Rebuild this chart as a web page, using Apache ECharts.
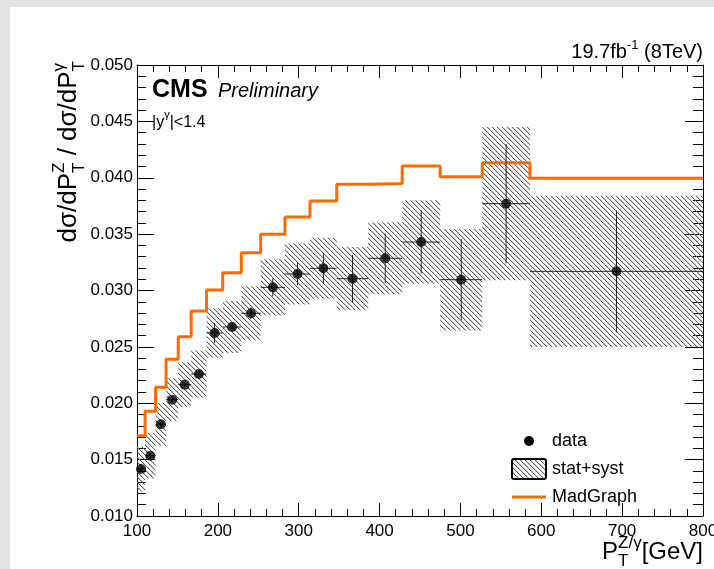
<!DOCTYPE html>
<html><head><meta charset="utf-8">
<script src="https://cdn.jsdelivr.net/npm/echarts@6/dist/echarts.min.js"></script>
<style>
html,body{margin:0;padding:0;background:#e3e3e0;width:714px;height:569px;overflow:hidden}
#panel{position:absolute;left:10px;top:7px;width:704px;height:562px;background:#fff}
#chart{position:absolute;left:0;top:0;width:714px;height:569px}
</style></head><body><div id="panel"></div><div id="chart"></div>
<script>
// ---- data ----
const binEdges = [100,110,123,136,151,167,186,206,229,253,283,314,347,386,428,475,527,586,800];
const pointX   = [105,116.5,129.5,143.5,159,176.5,196,217.5,241,268,298.5,330.5,366.5,407,451.5,501,556.5,693];
const pointY   = [0.01417,0.01535,0.01813,0.02032,0.02165,0.02259,0.02623,0.02676,0.02798,0.03028,0.03146,0.03197,0.03105,0.03286,0.0343,0.03096,0.0377,0.0317];
const statErr  = [0.0002,0.0002,0.0002,0.0002,0.0002,0.0003,0.0009,0.0003,0.0005,0.0008,0.0010,0.0014,0.0021,0.0022,0.0028,0.0036,0.0053,0.0054];
const totalErr = [0.0020,0.0020,0.0019,0.0019,0.0020,0.0021,0.0022,0.0023,0.0024,0.0025,0.0027,0.0027,0.0028,0.0032,0.0037,0.0045,0.0068,0.0067];
const madGraph = [0.01712,0.0193,0.02141,0.0239,0.0259,0.02818,0.03004,0.03158,0.03335,0.03498,0.03652,0.03794,0.03942,0.0395,0.04104,0.04009,0.04133,0.03995];
const xTicks = {min:100, max:800, interval:100};
const yTicks = {min:0.010, max:0.050, interval:0.005};

const FF = '"Liberation Sans", Arial, Helvetica, sans-serif';

// hatch pattern
function makeHatch(period){
  const c = document.createElement('canvas');
  c.width = period; c.height = period;
  const ctx = c.getContext('2d');
  const img = ctx.createImageData(period, period);
  for (let j=0;j<period;j++) for (let i=0;i<period;i++){
    const k = ((i - j) % period + period) % period;
    const idx = (j*period+i)*4;
    let a = 0;
    if (k===0) a = 255; else if (k===1) a = 70;
    img.data[idx]=95; img.data[idx+1]=95; img.data[idx+2]=95; img.data[idx+3]=a;
  }
  ctx.putImageData(img,0,0);
  return c;
}
const hatchCanvas = makeHatch(5);
const hatch = {image: hatchCanvas, repeat: 'repeat'};

// text measuring helper for composed (sub/sup) text
const mctx = document.createElement('canvas').getContext('2d');
function tw(t, font){ mctx.font = font; return mctx.measureText(t).width; }
function mathText(parts, x, y, align, rotation){
  let cur = 0; const items = [];
  parts.forEach(p=>{
    if (p.t !== undefined){
      const font = (p.style||'') + ' ' + p.s + 'px ' + FF;
      items.push({text:p.t, font, x:cur, y:(p.dy||0) - 0.33*p.s});
      cur += tw(p.t, font);
    } else {
      const font = p.s + 'px ' + FF;
      let w = 0;
      if (p.sub){ items.push({text:p.sub, font, x:cur, y:p.dySub - 0.33*p.s}); w = Math.max(w, tw(p.sub,font)); }
      if (p.sup){ items.push({text:p.sup, font, x:cur, y:p.dySup - 0.33*p.s}); w = Math.max(w, tw(p.sup,font)); }
      cur += w;
    }
  });
  const off = align === 'right' ? -cur : 0;
  return {
    type:'group', x, y, rotation: rotation||0, silent:true,
    children: items.map(it=>({
      type:'text', x: it.x + off, y: it.y,
      style:{text:it.text, font:it.font, fill:'#000', align:'left', verticalAlign:'middle'}
    }))
  };
}

const boxData = pointY.map((v,i)=>[binEdges[i], binEdges[i+1], v-totalErr[i], v+totalErr[i]]);
const errData = pointY.map((v,i)=>[pointX[i], v, binEdges[i], binEdges[i+1], statErr[i]]);
const mgData = binEdges.map((e,i)=>[e, madGraph[Math.min(i, madGraph.length-1)]]);
const ptData = pointY.map((v,i)=>[pointX[i], v]);

function axisCommon(isX, pos, showLabel, tickLen, minorLen){
  const t = isX ? xTicks : yTicks;
  return {
    type:'value', position:pos, min:t.min, max:t.max, interval:t.interval,
    axisLine:{show:true, onZero:false, lineStyle:{color:'#000', width:1}},
    axisTick:{show:true, inside:true, length:tickLen, lineStyle:{color:'#000', width:1}},
    minorTick:{show:true, splitNumber:5, length:minorLen, lineStyle:{color:'#000', width:1}},
    splitLine:{show:false}, minorSplitLine:{show:false},
    axisLabel:{show:showLabel, fontSize:17, color:'#000', fontFamily:FF,
      margin: isX ? 7 : 4, showMinLabel:true, showMaxLabel:true, hideOverlap:false,
      formatter: isX ? (v=>String(Math.round(v))) : (v=>v.toFixed(3))}
  };
}

const chart = echarts.init(document.getElementById('chart'), null, {renderer:'canvas'});
chart.setOption({
  animation:false,
  backgroundColor:'transparent',
  textStyle:{fontFamily:FF},
  grid:{left:137, right:11, top:65, bottom:53, containLabel:false, outerBoundsMode:'none'},
  xAxis:[axisCommon(true,'bottom',true,13,7), axisCommon(true,'top',false,13,7)],
  yAxis:[axisCommon(false,'left',true,17,9), axisCommon(false,'right',false,18,10)],
  series:[
    {type:'custom', name:'stat+syst', xAxisIndex:0, yAxisIndex:0, z:1, data:boxData,
      encode:{x:[0,1], y:[2,3]},
      renderItem:(params, api)=>{
        const p0 = api.coord([api.value(0), api.value(3)]);
        const p1 = api.coord([api.value(1), api.value(2)]);
        return {type:'rect', shape:{x:p0[0], y:p0[1], width:p1[0]-p0[0], height:p1[1]-p0[1]}, style:{fill:hatch}};
      }},
    {type:'line', name:'MadGraph', step:'end', z:3, data:mgData, symbol:'none',
      lineStyle:{color:'#ff6a00', width:3}, itemStyle:{color:'#ff6a00'}},
    {type:'custom', name:'errors', z:4, data:errData,
      encode:{x:[0,2,3], y:1},
      renderItem:(params, api)=>{
        const xc = api.value(0), y = api.value(1), x0 = api.value(2), x1 = api.value(3), e = api.value(4);
        const l = api.coord([x0,y]), r = api.coord([x1,y]);
        const t = api.coord([xc,y+e]), b = api.coord([xc,y-e]);
        const st = {stroke:'#222', lineWidth:1};
        return {type:'group', children:[
          {type:'line', shape:{x1:l[0], y1:l[1], x2:r[0], y2:r[1]}, style:st},
          {type:'line', shape:{x1:t[0], y1:t[1], x2:b[0], y2:b[1]}, style:st}
        ]};
      }},
    {type:'scatter', name:'data', z:5, data:ptData, symbol:'circle', symbolSize:10,
      itemStyle:{color:'#000'}}
  ],
  graphic:[
    mathText([
      {t:'dσ/dP', s:26},
      {sub:'T', sup:'Z', s:17, dySub:8, dySup:-12},
      {t:' / dσ/dP', s:26},
      {sub:'T', sup:'γ', s:17, dySub:8, dySup:-12}
    ], 77, 61, 'right', Math.PI/2),
    mathText([
      {t:'P', s:24},
      {sub:'T', sup:'Z/γ', s:17, dySub:7, dySup:-11},
      {t:'[GeV]', s:24}
    ], 703, 560, 'right'),
    mathText([
      {t:'19.7fb', s:20},
      {sup:'-1', s:13, dySup:-9},
      {t:' (8TeV)', s:20}
    ], 703, 59, 'right'),
    {type:'text', x:152, y:98-0.33*25, silent:true,
      style:{text:'CMS', font:'bold 25px '+FF, fill:'#000', align:'left', verticalAlign:'middle'}},
    {type:'text', x:218, y:98-0.33*20, silent:true,
      style:{text:'Preliminary', font:'italic 20px '+FF, fill:'#000', align:'left', verticalAlign:'middle'}},
    mathText([
      {t:'|y', s:16},
      {sup:'γ', s:11, dySup:-9},
      {t:'|<1.4', s:16}
    ], 152, 128, 'left'),
    {type:'circle', shape:{cx:529, cy:441, r:5}, style:{fill:'#000'}, silent:true},
    {type:'rect', shape:{x:512, y:459, width:34, height:20, r:2}, style:{fill:hatch, stroke:'#000', lineWidth:2}, silent:true},
    {type:'line', shape:{x1:512, y1:497, x2:546, y2:497}, style:{stroke:'#ff6a00', lineWidth:3}, silent:true},
    {type:'text', x:552, y:441, silent:true, style:{text:'data', font:'18px '+FF, fill:'#000', align:'left', verticalAlign:'middle'}},
    {type:'text', x:552, y:469, silent:true, style:{text:'stat+syst', font:'18px '+FF, fill:'#000', align:'left', verticalAlign:'middle'}},
    {type:'text', x:552, y:497, silent:true, style:{text:'MadGraph', font:'18px '+FF, fill:'#000', align:'left', verticalAlign:'middle'}}
  ]
});
</script>
</body></html>
